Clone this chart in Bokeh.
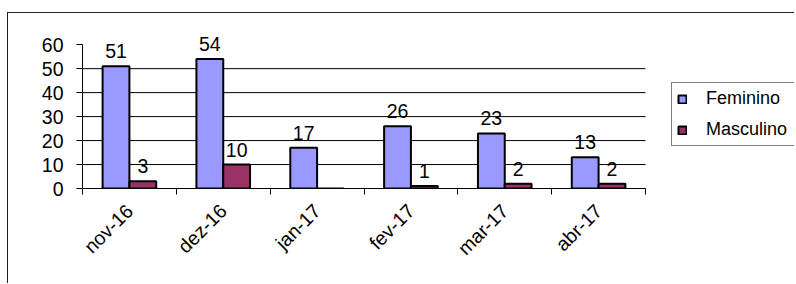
import numpy as np
from bokeh.plotting import figure
from bokeh.layouts import column
from bokeh.models import (Range1d, FixedTicker, Legend, LegendItem,
                          ColumnDataSource)
from bokeh.core.properties import value
from bokeh.embed import file_html
from bokeh.resources import INLINE

# ---- data ----
months = ["nov-16", "dez-16", "jan-17", "fev-17", "mar-17", "abr-17"]
feminino = [51, 54, 17, 26, 23, 13]
masculino = [3, 10, 0, 1, 2, 2]
y_ticks = [0, 10, 20, 30, 40, 50, 60]
series_names = ["Feminino", "Masculino"]
series_colors = ["#9999FF", "#993366"]

FONT = "Liberation Sans"
FS = "19.5px"
BAR_W = 1 / 3.5

# ---- layout geometry (pixels) ----
W, H = 786, 270
LEFT, BOTTOM = 74, 95
PLOT_W = 563          # width of the category area
PLOT_H60 = 143.8      # height of 0..60
frame_w = W - LEFT
frame_h = H - BOTTOM
x_end = len(months) * frame_w / PLOT_W
y_end = y_ticks[-1] * frame_h / PLOT_H60

p = figure(width=W, height=H, output_backend="svg", toolbar_location=None,
           x_range=Range1d(0, x_end), y_range=Range1d(0, y_end),
           min_border_left=LEFT, min_border_right=0,
           min_border_top=0, min_border_bottom=BOTTOM)
p.outline_line_color = None
p.background_fill_color = "white"
p.border_fill_color = "white"
p.xgrid.visible = False
p.ygrid.visible = False

# horizontal gridlines across the category area only
grid_y = y_ticks[1:-1]
p.segment(x0=[0] * len(grid_y), x1=[len(months)] * len(grid_y),
          y0=grid_y, y1=grid_y, line_color="black", line_width=1)

centers = np.arange(len(months)) + 0.5
offsets = [-BAR_W / 2, BAR_W / 2]
renderers = []
for vals, off, col in zip([feminino, masculino], offsets, series_colors):
    src = ColumnDataSource(dict(x=centers + off, top=vals))
    r = p.vbar(x="x", top="top", width=BAR_W, source=src, fill_color=col,
               line_color="black", line_width=2)
    renderers.append(r)
    lab = ColumnDataSource(dict(
        x=[c + off for c, v in zip(centers, vals) if v != 0],
        y=[v for v in vals if v != 0],
        t=[str(v) for v in vals if v != 0]))
    p.text(x="x", y="y", text="t", source=lab, text_align="center",
           text_baseline="alphabetic", y_offset=-15,
           text_font=value(FONT), text_font_size=FS, text_color="black")

# x axis: labels at centres, ticks at category boundaries
p.xaxis.bounds = (0, len(months))
p.xaxis.ticker = FixedTicker(ticks=list(centers),
                             minor_ticks=list(range(len(months) + 1)))
p.xaxis.major_label_overrides = {float(c): m for c, m in zip(centers, months)}
p.xaxis.major_tick_out = 0
p.xaxis.major_tick_in = 0
p.xaxis.minor_tick_out = 6
p.xaxis.minor_tick_in = 0
p.xaxis.minor_tick_line_color = "black"
p.xaxis.major_label_orientation = np.pi / 4
p.xaxis.axis_line_color = "black"
p.xaxis.major_label_text_font = FONT
p.xaxis.major_label_text_font_size = FS
p.xaxis.major_label_text_color = "black"
p.xaxis.major_label_standoff = 13

# y axis
p.yaxis.bounds = (y_ticks[0], y_ticks[-1])
p.yaxis.ticker = FixedTicker(ticks=y_ticks)
p.yaxis.major_tick_out = 6
p.yaxis.major_tick_in = 0
p.yaxis.minor_tick_line_color = None
p.yaxis.axis_line_color = "black"
p.yaxis.major_tick_line_color = "black"
p.yaxis.major_label_standoff = 13
p.yaxis.major_label_text_font = FONT
p.yaxis.major_label_text_font_size = FS
p.yaxis.major_label_text_color = "black"

legend = Legend(items=[LegendItem(label=n, renderers=[r])
                       for n, r in zip(series_names, renderers)],
                location=(589, 42))
legend.border_line_color = "black"
legend.border_line_width = 1
legend.background_fill_color = "white"
legend.label_text_font = FONT
legend.label_text_font_size = "18px"
legend.label_text_color = "black"
legend.glyph_width = 10
legend.glyph_height = 10
legend.label_standoff = 19
legend.padding = 5
legend.spacing = 10
legend.label_height = 18
legend.label_width = 95
legend.margin = 0
p.add_layout(legend)

# outer chart-area border (only left/top edges fall inside the window)
layout = column(p, margin=(12, 0, 0, 7),
                styles={"border-left": "1px solid #222222",
                        "border-top": "1px solid #222222"})

open("out.html", "w").write(file_html(layout, INLINE))
